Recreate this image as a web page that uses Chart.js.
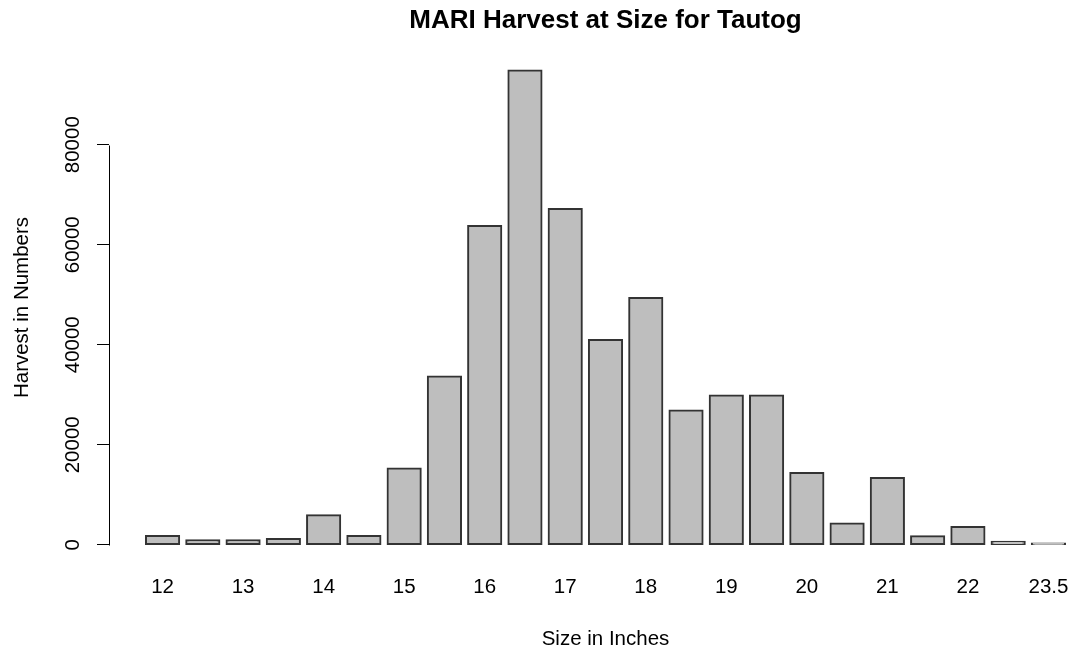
<!DOCTYPE html>
<html>
<head>
<meta charset="utf-8">
<script src="https://cdn.jsdelivr.net/npm/chart.js@4"></script>
<style>
  html, body { margin: 0; padding: 0; background: #fff; overflow: hidden; }
  #wrap { width: 1071px; height: 654px; overflow: hidden; }
</style>
</head>
<body>
<div id="wrap">
  <canvas id="sizeChart" width="1144" height="654"></canvas>
</div>
<script>
// harvest at size
const sizes = ['12', '12.5', '13', '13.5', '14', '14.5', '15', '15.5', '16', '16.5', '17', '17.5',
               '18', '18.5', '19', '19.5', '20', '20.5', '21', '21.5', '22', '22.5', '23.5'];
const harvest = [1800, 950, 950, 1200, 5950, 1800, 15300, 33700, 63800, 94900, 67200, 41000,
                 49400, 26900, 29900, 29900, 14400, 4300, 13400, 1750, 3600, 650, 300];
const yTicks = [0, 20000, 40000, 60000, 80000];

const FONT = "'Liberation Sans', Arial, sans-serif";

// barplot layout: width 1, space 0.2, both ranges padded by 4% like R
const halfBar = 0.5 / 1.2;
const xPad = 0.04 * (sizes.length * 1.2 - 0.2) / 1.2;
const yTop = Math.max(...harvest);

// R draws the y axis line only between the first and last tick
const axisLine = {
    id: 'axisLine',
    afterDraw(chart) {
        const y = chart.scales.y;
        const ctx = chart.ctx;
        const x = Math.round(y.right) + 0.5;
        ctx.save();
        ctx.strokeStyle = '#000';
        ctx.lineWidth = 1;
        ctx.beginPath();
        ctx.moveTo(x, Math.round(y.getPixelForValue(yTicks[0])) + 0.5);
        ctx.lineTo(x, Math.round(y.getPixelForValue(yTicks[yTicks.length - 1])) + 0.5);
        ctx.stroke();
        ctx.restore();
    }
};

document.addEventListener("DOMContentLoaded", function () {

    const sizeChart = new Chart(document.getElementById('sizeChart'), {
        type: 'bar',
        data: {
            datasets: [{
                data: harvest.map((v, i) => ({ x: i, y: v })),
                backgroundColor: '#bebebe',
                borderColor: '#333',
                borderWidth: 2,
                borderSkipped: false,
                inflateAmount: 0.8,   // R strokes the outline on the edge, not inside
                barPercentage: 1 / 1.2,
                categoryPercentage: 1
            }]
        },
        options: {
            responsive: false,
            animation: false,
            layout: { padding: { left: 0, right: 42, top: 0, bottom: 0 } },
            plugins: {
                legend: { display: false },
                tooltip: { enabled: false },
                title: {
                    display: true,
                    fullSize: false,
                    text: 'MARI Harvest at Size for Tautog',
                    color: '#000',
                    font: { family: FONT, size: 26, weight: 'bold' },
                    padding: { top: 5, bottom: 15 }
                }
            },
            scales: {
                x: {
                    type: 'linear',
                    min: -halfBar - xPad,
                    max: sizes.length - 1 + halfBar + xPad,
                    offset: false,
                    grid: { display: false, drawTicks: false },
                    border: { display: false },
                    afterBuildTicks: (scale) => {
                        scale.ticks = sizes.map((s, i) => ({ value: i }));
                    },
                    ticks: {
                        autoSkip: false,
                        maxRotation: 0,
                        padding: 11,
                        color: '#000',
                        font: { family: FONT, size: 20.5 },
                        callback: (value, index) => (index % 2 === 0 ? sizes[index] : '')
                    },
                    title: {
                        display: true,
                        text: 'Size in Inches',
                        color: '#000',
                        font: { family: FONT, size: 20.5 },
                        padding: { top: 17, bottom: 2 }
                    }
                },
                y: {
                    min: -0.04 * yTop,
                    max: 1.04 * yTop,
                    afterBuildTicks: (scale) => {
                        scale.ticks = yTicks.map(v => ({ value: v }));
                    },
                    afterFit: (scale) => { scale.width = 109; },
                    grid: {
                        drawOnChartArea: false,
                        drawTicks: true,
                        tickLength: 12,
                        color: '#000',
                        lineWidth: 1
                    },
                    border: { display: false },
                    ticks: {
                        minRotation: 90,
                        maxRotation: 90,
                        crossAlign: 'center',
                        padding: -4.5,
                        color: '#000',
                        font: { family: FONT, size: 20.5 },
                        callback: (value) => String(value)
                    },
                    title: {
                        display: true,
                        text: 'Harvest in Numbers',
                        color: '#000',
                        font: { family: FONT, size: 20.5 },
                        padding: { top: 10, bottom: 0 }
                    }
                }
            }
        },
        plugins: [axisLine]
    });
});
</script>
</body>
</html>
